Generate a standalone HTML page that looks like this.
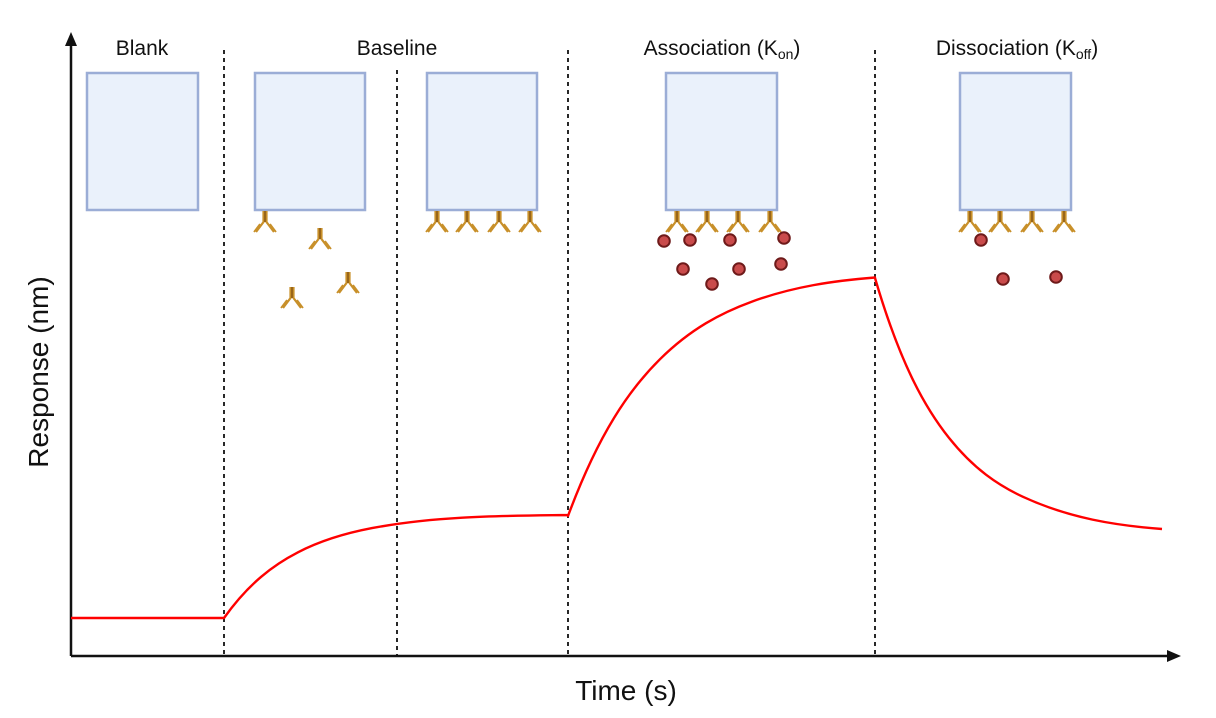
<!DOCTYPE html>
<html><head><style>body{margin:0;background:#fff}svg{display:block}text{font-family:"Liberation Sans",sans-serif;fill:#111}</style></head><body>
<svg width="1216" height="718" viewBox="0 0 1216 718">
<defs>
<g id="ab"><path d="M-1.5 0V11L-9 21M1.5 0V11L9 21" stroke="#c8902a" stroke-width="2.2" fill="none"/><path d="M-5 13L-11 21M5 13L11 21" stroke="#c8902a" stroke-width="1.8" fill="none"/><line x1="0" y1="0" x2="0" y2="11" stroke="#7a4a10" stroke-width="1.2"/></g>
<g id="dot"><circle r="5.8" fill="#c94b4b" stroke="#6e1a1a" stroke-width="2"/></g>
</defs>
<g fill="#eaf1fb" stroke="#9badd6" stroke-width="2.5">
<rect x="87" y="73" width="111" height="137"/><rect x="255" y="73" width="110" height="137"/><rect x="427" y="73" width="110" height="137"/><rect x="666" y="73" width="111" height="137"/><rect x="960" y="73" width="111" height="137"/>
</g>
<g stroke="#111" stroke-width="1.8" stroke-dasharray="4,4">
<line x1="224" y1="50" x2="224" y2="656"/><line x1="397" y1="70" x2="397" y2="656"/><line x1="568" y1="50" x2="568" y2="656"/><line x1="875" y1="50" x2="875" y2="656"/>
</g>
<g stroke="#111" stroke-width="2.5" fill="none"><path d="M71 656V40M71 656H1172"/></g>
<path d="M71 32L65 46H77Z" fill="#111"/><path d="M1181 656L1167 650V662Z" fill="#111"/>
<use href="#ab" x="265" y="211"/><use href="#ab" x="320" y="228"/><use href="#ab" x="292" y="287"/><use href="#ab" x="348" y="272"/>
<use href="#ab" x="437" y="211"/><use href="#ab" x="467" y="211"/><use href="#ab" x="499" y="211"/><use href="#ab" x="530" y="211"/>
<use href="#ab" x="677" y="211"/><use href="#ab" x="707" y="211"/><use href="#ab" x="738" y="211"/><use href="#ab" x="770" y="211"/>
<use href="#ab" x="970" y="211"/><use href="#ab" x="1000" y="211"/><use href="#ab" x="1032" y="211"/><use href="#ab" x="1064" y="211"/>
<use href="#dot" x="664" y="241"/><use href="#dot" x="690" y="240"/><use href="#dot" x="730" y="240"/><use href="#dot" x="784" y="238"/><use href="#dot" x="683" y="269"/><use href="#dot" x="712" y="284"/><use href="#dot" x="739" y="269"/><use href="#dot" x="781" y="264"/>
<use href="#dot" x="981" y="240"/><use href="#dot" x="1003" y="279"/><use href="#dot" x="1056" y="277"/>
<path d="M71 618H224C248.7 583.3 273.3 565 298 552.3C322.7 539.5 347.3 532.8 372 528.1C437.3 515.7 502.7 515.9 568 515L568 516C598.7 433.3 629.3 389.6 660 359.2C690.7 328.8 721.3 312.8 752 301.6C793 286.6 834 280.7 875 277.5L875 278C899.7 362.3 924.3 406.9 949 437.9C973.7 468.9 998.3 485.4 1023 496.8C1069.3 518.2 1115.7 525.5 1162 529" stroke="#f00" stroke-width="2.4" fill="none" stroke-linejoin="round"/>
<g font-size="21" text-anchor="middle">
<text x="142" y="55">Blank</text><text x="397" y="55">Baseline</text>
<text x="722" y="55">Association (K<tspan font-size="14" dy="4">on</tspan><tspan dy="-4">)</tspan></text>
<text x="1017" y="55">Dissociation (K<tspan font-size="14" dy="4">off</tspan><tspan dy="-4">)</tspan></text>
</g>
<text x="626" y="700" font-size="28" text-anchor="middle">Time (s)</text>
<text transform="translate(48 372) rotate(-90)" font-size="28" text-anchor="middle">Response (nm)</text>
</svg>
</body></html>
